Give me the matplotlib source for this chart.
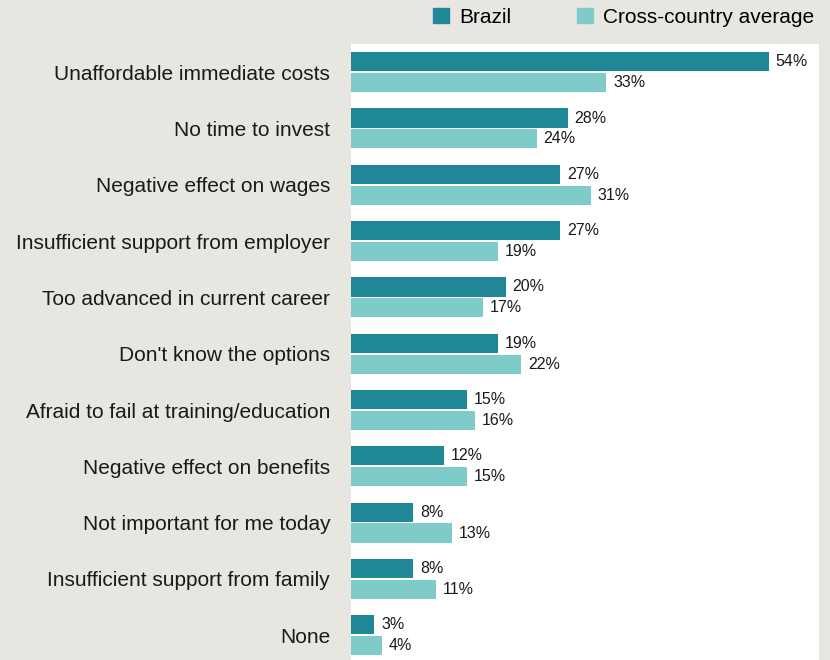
import numpy as np
import matplotlib.pyplot as plt
from matplotlib.patches import Patch

# Reasons for not investing in training
reasons = [
    "Unaffordable immediate costs",
    "No time to invest",
    "Negative effect on wages",
    "Insufficient support from employer",
    "Too advanced in current career",
    "Don't know the options",
    "Afraid to fail at training/education",
    "Negative effect on benefits",
    "Not important for me today",
    "Insufficient support from family",
    "None",
]
brazil = [54, 28, 27, 27, 20, 19, 15, 12, 8, 8, 3]
cross_avg = [33, 24, 31, 19, 17, 22, 16, 15, 13, 11, 4]

BG = "#e8e6e1"
DARK = "#1f8796"
LIGHT = "#7ecbc9"

plt.rcParams["font.family"] = ["Liberation Sans", "DejaVu Sans"]

fig = plt.figure(figsize=(8.3, 6.6), dpi=100, facecolor=BG)
ax = fig.add_axes([0.4229, 0.0, 0.5639, 0.9333])
ax.set_facecolor("white")

y = np.arange(len(reasons))
h = 0.34
off = 0.185
ax.barh(y - off, brazil, height=h, color=DARK)
ax.barh(y + off, cross_avg, height=h, color=LIGHT)

for yi, v in zip(y, brazil):
    ax.text(v + 0.9, yi - off, f"{v}%", va="center", ha="left", fontsize=11.5, color="#1a1a1a")
for yi, v in zip(y, cross_avg):
    ax.text(v + 0.9, yi + off, f"{v}%", va="center", ha="left", fontsize=11.5, color="#1a1a1a")

ax.set_xlim(0, 60.5)
ax.set_ylim(10.44, -0.5)
ax.set_yticks(y)
ax.set_yticklabels(reasons, fontsize=15, color="#1a1a1a")
ax.tick_params(axis="y", length=0, pad=15)
ax.set_xticks([])
for s in ax.spines.values():
    s.set_visible(False)

handles = [Patch(color=DARK, label="Brazil"), Patch(color=LIGHT, label="Cross-country average")]
fig.legend(handles=handles, loc="upper right", bbox_to_anchor=(1.003, 1.017), ncol=2,
           frameon=False, fontsize=15, handlelength=0.8, handleheight=0.8,
           handletextpad=0.45, columnspacing=3.15)

fig.savefig("out.png", dpi=100, facecolor=BG)
